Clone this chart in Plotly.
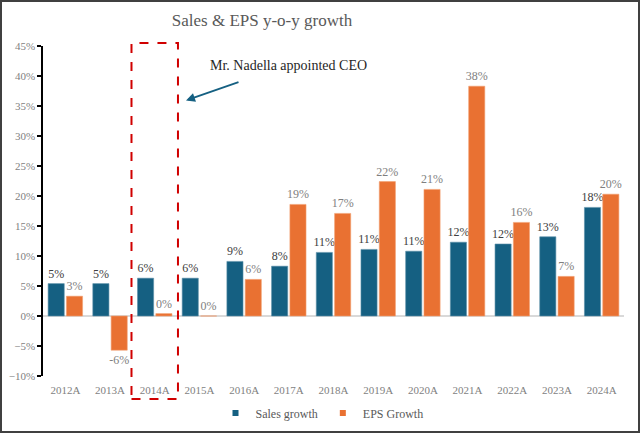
import plotly.graph_objects as go

years = ["2012A", "2013A", "2014A", "2015A", "2016A", "2017A", "2018A",
         "2019A", "2020A", "2021A", "2022A", "2023A", "2024A"]
sales_growth = [0.054, 0.054, 0.063, 0.063, 0.091, 0.083, 0.106, 0.111,
                0.108, 0.123, 0.120, 0.132, 0.181]
eps_growth = [0.033, -0.057, 0.004, 0.0, 0.061, 0.186, 0.171, 0.224,
              0.211, 0.383, 0.156, 0.066, 0.203]
y_ticks = [-0.10, -0.05, 0.0, 0.05, 0.10, 0.15, 0.20, 0.25, 0.30, 0.35, 0.40, 0.45]

SERIF = "Liberation Serif, Times New Roman, serif"
W, H = 640, 433
L, R, T, B = 43, 16, 46, 57
PW, PH = W - L - R, H - T - B


def px_x(p):
    return (p - L) / PW


def px_y(p):
    return (H - B - p) / PH


def lab(v):
    return f"{round(v * 100):.0f}%"


fig = go.Figure()
fig.add_trace(go.Bar(
    x=years, y=sales_growth, name="Sales growth", showlegend=False,
    marker=dict(color="#156082", line=dict(color="#5a8fa8", width=0.6)),
    text=[lab(v) for v in sales_growth], textposition="outside",
    constraintext="none",
    textfont=dict(family=SERIF, size=12, color="#404040"),
    outsidetextfont=dict(family=SERIF, size=12, color="#404040"),
    cliponaxis=False,
))
fig.add_trace(go.Bar(
    x=years, y=eps_growth, name="EPS Growth", showlegend=False,
    marker=dict(color="#E97132", line=dict(color="#f2a070", width=0.6)),
    text=[lab(v) for v in eps_growth], textposition="outside",
    constraintext="none",
    textfont=dict(family=SERIF, size=12, color="#7f7f7f"),
    outsidetextfont=dict(family=SERIF, size=12, color="#7f7f7f"),
    cliponaxis=False,
))
# legend entries with small square symbols
fig.add_trace(go.Scatter(x=[None], y=[None], mode="markers", name="Sales growth",
                         marker=dict(symbol="square", size=6, color="#156082")))
fig.add_trace(go.Scatter(x=[None], y=[None], mode="markers", name="EPS Growth",
                         marker=dict(symbol="square", size=6, color="#E97132")))

shapes = [
    dict(type="rect", xref="x", yref="paper", x0=1.48, x1=2.52,
         y0=px_y(399), y1=px_y(43),
         line=dict(color="#D00000", width=2, dash="dash"), layer="above"),
    dict(type="rect", xref="paper", yref="paper",
         x0=px_x(1), x1=px_x(639), y0=px_y(432), y1=px_y(1),
         line=dict(color="#404040", width=2)),
]

annotations = [
    dict(xref="paper", yref="paper", x=px_x(208), y=px_y(65),
         xanchor="left", yanchor="middle", showarrow=False,
         text="Mr. Nadella appointed CEO",
         font=dict(family=SERIF, size=14, color="#262626")),
    dict(xref="paper", yref="paper", x=px_x(186), y=px_y(100.5),
         ax=54, ay=-19, axref="pixel", ayref="pixel",
         showarrow=True, arrowhead=2, arrowsize=1, arrowwidth=1.8,
         arrowcolor="#156082", text=""),
]

fig.update_layout(
    width=W, height=H,
    margin=dict(l=L, r=R, t=T, b=B, autoexpand=False),
    paper_bgcolor="white", plot_bgcolor="white",
    barmode="group", bargap=0.18, bargroupgap=0.12,
    title=dict(text="Sales & EPS y-o-y growth", x=262 / W, xanchor="center",
               y=1 - 20 / H, yanchor="middle", xref="container", yref="container",
               font=dict(family=SERIF, size=17, color="#595959")),
    font=dict(family=SERIF, size=11, color="#7f7f7f"),
    showlegend=True,
    legend=dict(orientation="h", x=322 / W, xanchor="center", xref="container",
                y=(H - 413) / H, yanchor="middle", yref="container",
                font=dict(family=SERIF, size=12, color="#595959"),
                itemwidth=30, tracegroupgap=0, bgcolor="rgba(0,0,0,0)"),
    shapes=shapes,
    annotations=annotations,
)
fig.update_xaxes(showline=False, ticks="", showgrid=False, ticklabelstandoff=6,
                 tickfont=dict(family=SERIF, size=11, color="#7f7f7f"))
fig.update_yaxes(range=[-0.10, 0.45], tickvals=y_ticks, tickformat=".0%",
                 showgrid=False, showline=True, linecolor="black", linewidth=1.5,
                 ticks="outside", ticklen=4, tickcolor="black", tickwidth=1.5,
                 zeroline=True, zerolinecolor="#d9d9d9", zerolinewidth=1.5,
                 tickfont=dict(family=SERIF, size=11, color="#7f7f7f"))

fig.write_html("out.html")
